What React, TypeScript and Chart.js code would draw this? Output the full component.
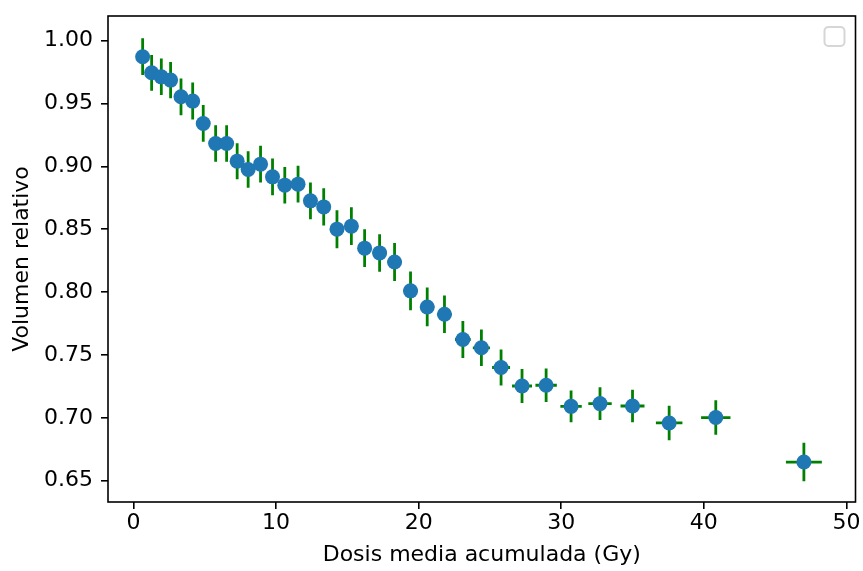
import { useEffect, useRef } from "react";
import { Chart, registerables } from "chart.js";

Chart.register(...registerables);

// Mean accumulated dose (Gy) per bin
const doseMean = [
  0.64, 1.27, 1.95, 2.6, 3.33, 4.15, 4.89, 5.76, 6.53, 7.27,
  8.04, 8.91, 9.75, 10.61, 11.54, 12.41, 13.34, 14.27, 15.28, 16.21,
  17.26, 18.31, 19.43, 20.6, 21.81, 23.1, 24.4, 25.78, 27.25, 28.94,
  30.69, 32.72, 35.0, 37.57, 40.84, 47.02,
];
// Relative volume
const relVolume = [
  0.9873, 0.9745, 0.9713, 0.9687, 0.9554, 0.952, 0.9342, 0.9183, 0.9183, 0.9042,
  0.8976, 0.9018, 0.8917, 0.8851, 0.8859, 0.8726, 0.8678, 0.8501, 0.8525, 0.835,
  0.8312, 0.824, 0.801, 0.7882, 0.7824, 0.7623, 0.7557, 0.74, 0.7253, 0.7259,
  0.7091, 0.7113, 0.7094, 0.6959, 0.7002, 0.6648,
];
// Horizontal error (Gy)
const doseErr = [
  0.3, 0.3, 0.3, 0.3, 0.3, 0.3, 0.3, 0.3, 0.3, 0.3,
  0.4, 0.4, 0.4, 0.4, 0.4, 0.4, 0.4, 0.4, 0.4, 0.4,
  0.5, 0.5, 0.5, 0.5, 0.5, 0.55, 0.6, 0.63, 0.7, 0.75,
  0.75, 0.82, 0.84, 0.93, 1.03, 1.26,
];
// Vertical error
const volumeErr = [
  0.0146, 0.0142, 0.0145, 0.0144, 0.0146, 0.0147, 0.0146, 0.0145, 0.0145, 0.0143,
  0.0145, 0.0146, 0.0146, 0.0145, 0.0146, 0.0147, 0.0148, 0.0151, 0.015, 0.015,
  0.0149, 0.0151, 0.0155, 0.0154, 0.015, 0.0147, 0.0145, 0.0143, 0.0135, 0.0133,
  0.0126, 0.013, 0.013, 0.0137, 0.0137, 0.0153,
];

const xTicks = [0, 10, 20, 30, 40, 50];
const yTicks = [0.65, 0.7, 0.75, 0.8, 0.85, 0.9, 0.95, 1.0];
const xLabel = "Dosis media acumulada (Gy)";
const yLabel = "Volumen relativo";

const FONT = "'DejaVu Sans', sans-serif";
const FONT_SIZE = 22;

const errorBarPlugin = {
  id: "errorBars",
  beforeDatasetsDraw(chart: any) {
    const { ctx, scales, chartArea } = chart;
    const x = scales.x;
    const y = scales.y;
    ctx.save();
    ctx.beginPath();
    ctx.rect(chartArea.left, chartArea.top, chartArea.right - chartArea.left, chartArea.bottom - chartArea.top);
    ctx.clip();
    ctx.strokeStyle = "#008000";
    ctx.lineWidth = 2.8;
    ctx.lineCap = "butt";
    ctx.beginPath();
    doseMean.forEach((d, i) => {
      const v = relVolume[i];
      const px = x.getPixelForValue(d);
      const py = y.getPixelForValue(v);
      ctx.moveTo(x.getPixelForValue(d - doseErr[i]), py);
      ctx.lineTo(x.getPixelForValue(d + doseErr[i]), py);
      ctx.moveTo(px, y.getPixelForValue(v - volumeErr[i]));
      ctx.lineTo(px, y.getPixelForValue(v + volumeErr[i]));
    });
    ctx.stroke();
    ctx.restore();
  },
  afterDraw(chart: any) {
    const { ctx, chartArea } = chart;
    ctx.save();
    ctx.strokeStyle = "#000";
    ctx.lineWidth = 1.6;
    ctx.strokeRect(chartArea.left, chartArea.top, chartArea.right - chartArea.left, chartArea.bottom - chartArea.top);
    // empty legend frame (upper right)
    const w = 20;
    const h = 19;
    const lx = chartArea.right - 11 - w;
    const ly = chartArea.top + 11;
    ctx.fillStyle = "rgba(255,255,255,0.8)";
    ctx.strokeStyle = "rgba(204,204,204,0.8)";
    ctx.lineWidth = 2;
    ctx.beginPath();
    (ctx as any).roundRect(lx, ly, w, h, 4);
    ctx.fill();
    ctx.stroke();
    ctx.restore();
  },
};

export default function App() {
  const canvasRef = useRef<HTMLCanvasElement | null>(null);

  useEffect(() => {
    if (!canvasRef.current) return;
    const chart = new Chart(canvasRef.current, {
      type: "scatter",
      data: {
        datasets: [
          {
            data: doseMean.map((d, i) => ({ x: d, y: relVolume[i] })),
            backgroundColor: "#1f77b4",
            borderWidth: 0,
            pointRadius: 7.5,
            pointHoverRadius: 7.5,
          },
        ],
      },
      options: {
        animation: false,
        responsive: false,
        events: [],
        layout: { padding: { top: 16, right: 6, left: 0, bottom: 0 } },
        plugins: {
          legend: { display: false },
          tooltip: { enabled: false },
        },
        scales: {
          x: {
            type: "linear",
            min: -1.79,
            max: 50.64,
            afterBuildTicks: (s: any) => {
              s.ticks = xTicks.map((v) => ({ value: v }));
            },
            afterFit: (s: any) => {
              s.height = 69;
              s.paddingLeft = 0;
              s.paddingRight = 0;
            },
            grid: {
              drawOnChartArea: false,
              drawTicks: true,
              tickLength: 7,
              color: "#000",
              lineWidth: 1.6,
            },
            border: { display: false },
            ticks: {
              color: "#000",
              font: { family: FONT, size: FONT_SIZE },
              padding: 1,
              maxRotation: 0,
              callback: (v: any) => String(v),
            },
            title: {
              display: true,
              text: xLabel,
              color: "#000",
              font: { family: FONT, size: FONT_SIZE },
              padding: { top: 0, bottom: 3 },
            },
          },
          y: {
            type: "linear",
            min: 0.633,
            max: 1.0197,
            afterBuildTicks: (s: any) => {
              s.ticks = yTicks.map((v) => ({ value: v }));
            },
            afterFit: (s: any) => {
              s.width = 108;
              s.paddingTop = 0;
              s.paddingBottom = 0;
            },
            grid: {
              drawOnChartArea: false,
              drawTicks: true,
              tickLength: 7,
              color: "#000",
              lineWidth: 1.6,
            },
            border: { display: false },
            ticks: {
              color: "#000",
              font: { family: FONT, size: FONT_SIZE },
              padding: 8,
              callback: (v: any) => Number(v).toFixed(2),
            },
            title: {
              display: true,
              text: yLabel,
              color: "#000",
              font: { family: FONT, size: FONT_SIZE },
              padding: { top: 9, bottom: 0 },
            },
          },
        },
      },
      plugins: [errorBarPlugin],
    });
    return () => chart.destroy();
  }, []);

  return (
    <div style={{ position: "absolute", left: 0, top: 0, width: 863, height: 571, background: "#fff" }}>
      <canvas ref={canvasRef} width={863} height={571} style={{ display: "block" }} />
    </div>
  );
}
